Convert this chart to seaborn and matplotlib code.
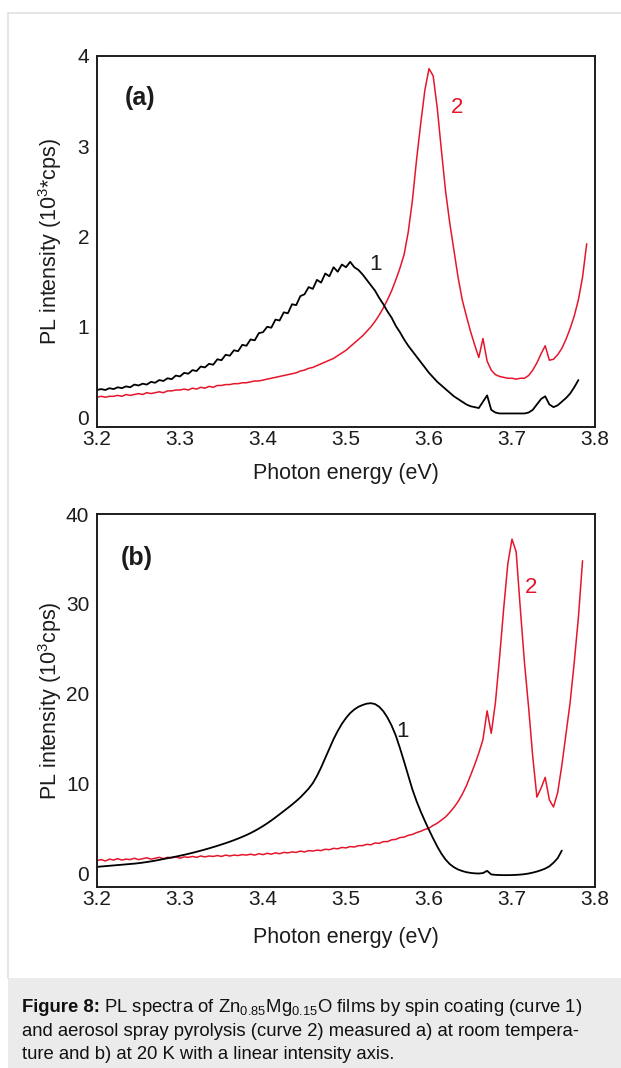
import numpy as np
import pandas as pd
import matplotlib
matplotlib.use("Agg")
import matplotlib.pyplot as plt
import seaborn as sns
from matplotlib.patches import Rectangle
from matplotlib.lines import Line2D

# ---------------------------------------------------------------
# Spectra sampled on a regular photon-energy grid (eV)
# ---------------------------------------------------------------
E_START = 3.200
E_STEP = 0.005

# (a) room temperature, 10^3 cps
rt_spin = [  # curve 1, spin coating
    0.30, 0.31, 0.30, 0.32, 0.31, 0.33, 0.32, 0.34, 0.33, 0.36,
    0.35, 0.37, 0.36, 0.39, 0.38, 0.41, 0.40, 0.43, 0.42, 0.46,
    0.45, 0.49, 0.48, 0.52, 0.51, 0.56, 0.55, 0.59, 0.58, 0.64,
    0.63, 0.69, 0.68, 0.74, 0.73, 0.80, 0.79, 0.86, 0.85, 0.93,
    0.94, 1.00, 0.99, 1.08, 1.07, 1.16, 1.15, 1.25, 1.24, 1.34,
    1.36, 1.44, 1.42, 1.52, 1.49, 1.59, 1.56, 1.66, 1.61, 1.69,
    1.66, 1.72, 1.66, 1.63, 1.58, 1.52, 1.46, 1.40, 1.32, 1.25,
    1.17, 1.10, 1.01, 0.94, 0.86, 0.79, 0.73, 0.67, 0.61, 0.55,
    0.49, 0.44, 0.39, 0.35, 0.31, 0.27, 0.23, 0.20, 0.17, 0.14,
    0.12, 0.11, 0.10, 0.17, 0.24, 0.08, 0.05, 0.04, 0.04, 0.04,
    0.04, 0.04, 0.04, 0.04, 0.05, 0.08, 0.14, 0.20, 0.23, 0.14,
    0.11, 0.13, 0.17, 0.21, 0.26, 0.33, 0.41,
]
rt_spray = [  # curve 2, aerosol spray pyrolysis
    0.22, 0.23, 0.22, 0.23, 0.23, 0.24, 0.23, 0.25, 0.24, 0.25,
    0.26, 0.25, 0.27, 0.26, 0.27, 0.28, 0.27, 0.29, 0.29, 0.30,
    0.30, 0.31, 0.30, 0.32, 0.31, 0.33, 0.32, 0.34, 0.33, 0.35,
    0.35, 0.36, 0.36, 0.37, 0.37, 0.38, 0.38, 0.39, 0.40, 0.40,
    0.41, 0.42, 0.43, 0.44, 0.45, 0.46, 0.47, 0.48, 0.49, 0.51,
    0.52, 0.54, 0.55, 0.57, 0.59, 0.61, 0.63, 0.65, 0.68, 0.71,
    0.74, 0.78, 0.82, 0.86, 0.90, 0.95, 1.00, 1.06, 1.13, 1.21,
    1.30, 1.40, 1.52, 1.65, 1.80, 2.05, 2.40, 2.85, 3.25, 3.62,
    3.86, 3.78, 3.42, 2.95, 2.50, 2.15, 1.85, 1.55, 1.30, 1.12,
    0.95, 0.80, 0.66, 0.87, 0.62, 0.52, 0.47, 0.45, 0.44, 0.43,
    0.43, 0.42, 0.43, 0.43, 0.46, 0.52, 0.60, 0.70, 0.79, 0.63,
    0.64, 0.69, 0.76, 0.86, 0.98, 1.12, 1.30, 1.55, 1.92,
]

# (b) 20 K, 10^3 cps
lt_spin = [  # curve 1
    0.74, 0.78, 0.82, 0.86, 0.90, 0.94, 0.98, 1.02, 1.06, 1.10,
    1.15, 1.21, 1.28, 1.35, 1.43, 1.52, 1.61, 1.70, 1.79, 1.88,
    1.98, 2.08, 2.19, 2.30, 2.42, 2.54, 2.67, 2.80, 2.94, 3.08,
    3.23, 3.38, 3.54, 3.71, 3.89, 4.08, 4.28, 4.50, 4.74, 5.00,
    5.28, 5.58, 5.90, 6.24, 6.59, 6.95, 7.30, 7.67, 8.06, 8.47,
    8.95, 9.45, 10.05, 10.85, 11.80, 12.85, 13.90, 14.95, 15.85, 16.65,
    17.30, 17.85, 18.25, 18.55, 18.75, 18.90, 18.95, 18.85, 18.55, 18.05,
    17.35, 16.45, 15.35, 13.95, 12.45, 10.90, 9.35, 8.05, 6.90, 5.85,
    4.85, 3.90, 3.00, 2.20, 1.55, 1.05, 0.70, 0.45, 0.28, 0.15,
    0.07, 0.02, 0.00, 0.05, 0.30, -0.10, -0.15, -0.17, -0.18, -0.18,
    -0.17, -0.15, -0.12, -0.07, 0.00, 0.10, 0.22, 0.37, 0.55, 0.80,
    1.20, 1.70, 2.55,
]
lt_spray = [  # curve 2
    1.45, 1.55, 1.40, 1.60, 1.50, 1.65, 1.50, 1.60, 1.55, 1.70,
    1.55, 1.65, 1.75, 1.60, 1.70, 1.80, 1.65, 1.80, 1.75, 1.85,
    1.70, 1.85, 1.80, 1.90, 1.80, 1.95, 1.85, 1.95, 1.90, 2.00,
    1.90, 2.05, 1.95, 2.05, 2.00, 2.10, 2.05, 2.15, 2.05, 2.20,
    2.10, 2.25, 2.15, 2.30, 2.20, 2.35, 2.30, 2.40, 2.35, 2.50,
    2.40, 2.55, 2.50, 2.60, 2.55, 2.70, 2.65, 2.80, 2.75, 2.90,
    2.85, 3.00, 2.95, 3.10, 3.10, 3.25, 3.20, 3.40, 3.35, 3.55,
    3.55, 3.75, 3.80, 4.00, 4.05, 4.25, 4.35, 4.55, 4.70, 4.90,
    5.05, 5.35, 5.60, 5.95, 6.30, 6.80, 7.35, 8.00, 8.80, 9.75,
    10.90, 12.10, 13.40, 14.90, 18.10, 15.60, 19.00, 24.00, 29.50, 34.50,
    37.20, 35.80, 29.50, 23.50, 18.50, 13.00, 8.50, 9.50, 10.70, 8.20,
    7.40, 9.00, 12.00, 15.50, 19.00, 23.50, 28.50, 34.80,
]

energy_ticks = [3.2, 3.3, 3.4, 3.5, 3.6, 3.7, 3.8]
energy_tick_labels = ["3.2", "3.3", "3.4", "3.5", "3.6", "3.7", "3.8"]
rt_yticks = [0, 1, 2, 3, 4]
lt_yticks = [0, 10, 20, 30, 40]

RED = "#e5162b"
INK = "#1c1c1c"


def spectrum_frame(values, label):
    energy = E_START + E_STEP * np.arange(len(values))
    return pd.DataFrame({"energy": energy, "intensity": values, "curve": label})


# ---------------------------------------------------------------
# Style
# ---------------------------------------------------------------
sns.set_style("white")
plt.rcParams["font.family"] = ["Liberation Sans", "DejaVu Sans"]
plt.rcParams["mathtext.fontset"] = "custom"
plt.rcParams["mathtext.rm"] = "Liberation Sans"
plt.rcParams["mathtext.it"] = "Liberation Sans:italic"
plt.rcParams["mathtext.bf"] = "Liberation Sans:bold"
plt.rcParams["text.color"] = INK
plt.rcParams["axes.labelcolor"] = INK

W, H = 621, 1068
fig = plt.figure(figsize=(W / 100, H / 100), dpi=100)
fig.patch.set_facecolor("white")


def px_axes(left, top, right, bottom):
    return fig.add_axes([left / W, 1 - bottom / H, (right - left) / W, (bottom - top) / H])


ax_a = px_axes(97, 56, 595, 427)
ax_b = px_axes(97, 514, 595, 887)

panels = [
    (ax_a, rt_spin, rt_spray, (-0.11, 4.0), rt_yticks,
     r"PL intensity (10$^{3}$*cps)", "(a)", (0.056, 0.887),
     (0.560, 0.439), (0.723, 0.862), -0.097),
    (ax_b, lt_spin, lt_spray, (-1.5, 40.0), lt_yticks,
     r"PL intensity (10$^{3}$cps)", "(b)", (0.048, 0.882),
     (0.614, 0.418), (0.871, 0.804), -0.107),
]

for (ax, spin, spray, ylim, yticks, ylabel, tag, tag_pos,
     lab1_pos, lab2_pos, xlab_y) in panels:
    df1 = spectrum_frame(spin, "1")
    df2 = spectrum_frame(spray, "2")
    sns.lineplot(data=df2, x="energy", y="intensity", color=RED, lw=1.1,
                 estimator=None, sort=False, legend=False, ax=ax)
    sns.lineplot(data=df1, x="energy", y="intensity", color="black", lw=1.3,
                 estimator=None, sort=False, legend=False, ax=ax)

    ax.set_xlim(3.2, 3.8)
    ax.set_ylim(*ylim)
    ax.set_xticks(energy_ticks)
    ax.set_xticklabels(energy_tick_labels)
    ax.set_yticks(yticks)
    ax.set_yticklabels([str(v) for v in yticks])
    ax.tick_params(axis="both", direction="in", length=8, width=1.2,
                   colors=INK, labelsize=15, top=False, right=False)
    ax.tick_params(axis="x", pad=2.5)
    ax.tick_params(axis="y", pad=5.5)
    for sp in ax.spines.values():
        sp.set_visible(True)
        sp.set_linewidth(1.4)
        sp.set_color(INK)

    ax.set_xlabel("Photon energy (eV)", fontsize=15.5)
    ax.xaxis.set_label_coords(0.5, xlab_y)
    ax.set_ylabel(ylabel, fontsize=15.5)
    ax.yaxis.set_label_coords(-0.066, 0.5)

    ax.text(*tag_pos, tag, transform=ax.transAxes, fontsize=18,
            fontweight="bold", ha="left", va="center", color=INK)
    ax.text(*lab1_pos, "1", transform=ax.transAxes, fontsize=16,
            ha="center", va="center", color=INK)
    ax.text(*lab2_pos, "2", transform=ax.transAxes, fontsize=16,
            ha="center", va="center", color=RED)

# ---------------------------------------------------------------
# Page frame and caption
# ---------------------------------------------------------------
fig.add_artist(Line2D([8 / W, 8 / W], [1 - 13 / H, 1 - 978 / H],
                      transform=fig.transFigure, color="#e2e2e2", lw=1.2))
fig.add_artist(Line2D([8 / W, 1.0], [1 - 13 / H, 1 - 13 / H],
                      transform=fig.transFigure, color="#e2e2e2", lw=1.2))
fig.add_artist(Rectangle((8 / W, 0), 1 - 8 / W, 90 / H,
                         transform=fig.transFigure, facecolor="#ebebeb",
                         edgecolor="none"))

CAP_SIZE = 13.3
CAP_X = 22
cap_lead = "Figure 8:"
caption_lines = [
    r"PL spectra of Zn$_{0.85}$Mg$_{0.15}$O films by spin coating (curve 1)",
    "and aerosol spray pyrolysis (curve 2) measured a) at room tempera-",
    "ture and b) at 20 K with a linear intensity axis.",
]
baselines = [1012, 1035.5, 1059]

lead = fig.text(CAP_X / W, 1 - baselines[0] / H, cap_lead, fontsize=CAP_SIZE,
                fontweight="bold", ha="left", va="baseline", color="#111111")
renderer = fig.canvas.get_renderer()
lead_end = lead.get_window_extent(renderer).x1
fig.text((lead_end + 4) / W, 1 - baselines[0] / H, caption_lines[0],
         fontsize=CAP_SIZE, ha="left", va="baseline", color="#111111")
for line, base in zip(caption_lines[1:], baselines[1:]):
    fig.text(CAP_X / W, 1 - base / H, line, fontsize=CAP_SIZE,
             ha="left", va="baseline", color="#111111")

fig.savefig("out.png", dpi=100, facecolor="white")
